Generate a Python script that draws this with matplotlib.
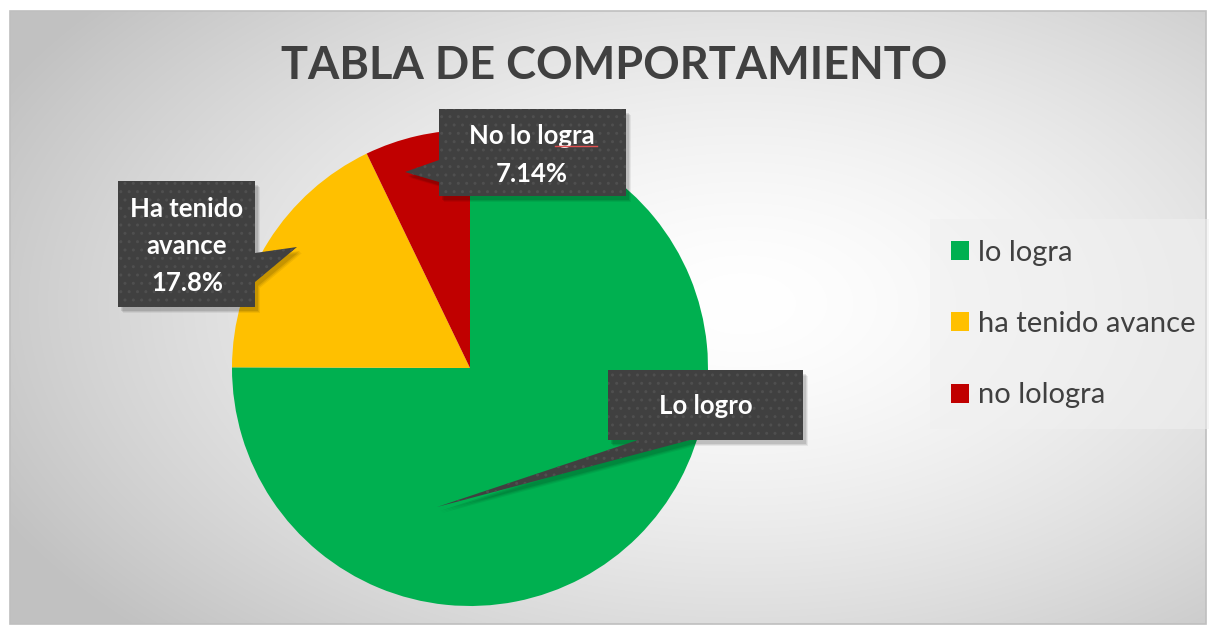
import matplotlib.pyplot as plt
import numpy as np
from matplotlib.patches import Polygon, Rectangle

# data
legend_labels = ['lo logra', 'ha tenido avance', 'no lologra']
callout_names = ['Lo logro', 'Ha tenido\navance', 'No lo logra']
values = [75.0, 17.8, 7.14]
show_pct = [False, True, True]
colors = ['#00b050', '#ffc000', '#c00000']

W, H = 1209, 629
fig = plt.figure(figsize=(W / 100, H / 100), dpi=100)
ax = fig.add_axes([0, 0, 1, 1])

# background: radial grey gradient inside a thin frame
yy, xx = np.mgrid[0:H, 0:W]
d = np.sqrt(((xx - 740) / 620.0) ** 2 + ((yy - 300) / 360.0) ** 2)
shade = 1.0 - 0.24 * np.clip(d / 1.35, 0, 1) ** 1.5
bg = np.dstack([shade] * 3)
ax.imshow(bg, extent=(10, 1206, 624, 11), zorder=0, interpolation='bilinear')
ax.add_patch(Rectangle((10, 11), 1196, 613, fill=False, ec='#bfbfbf', lw=1.2, zorder=1))

# pie (y axis points down, so counterclock=True reads clockwise on screen)
cx, cy, r = 470, 368, 238
wedges, _ = ax.pie(values, colors=colors, startangle=-90, counterclock=True,
                   center=(cx, cy), radius=r, frame=True,
                   wedgeprops=dict(linewidth=0))
for w in wedges:
    w.set_zorder(2)

ax.set_xlim(0, W)
ax.set_ylim(H, 0)
ax.set_aspect('auto')
ax.set_axis_off()

fig.patch.set_facecolor('white')

ax.text(614, 66, 'TABLA DE COMPORTAMIENTO', ha='center', va='center',
        fontsize=32.5, fontweight='bold', color='#404040', family='Lato', zorder=5)

# callouts: box + pointer outlines
shapes = [
    [(608, 370), (803, 370), (803, 440), (690, 440), (437, 507), (638, 440), (608, 440)],
    [(118, 181), (255, 181), (255, 253), (297, 247), (255, 282), (255, 307), (118, 307)],
    [(439, 109), (626, 109), (626, 196), (439, 196), (439, 182), (405, 172), (439, 160)],
]
text_pos = [(706, 406), (187, 246), (532, 155)]

for i, pts in enumerate(shapes):
    pts = np.array(pts, dtype=float)
    for k, a in enumerate([0.10, 0.08, 0.06]):
        ax.add_patch(Polygon(pts + (3 + k, 4 + k), closed=True, fc='black',
                             alpha=a, lw=0, zorder=3))
    ax.add_patch(Polygon(pts, closed=True, fc='#404040', ec='#4f4f4f',
                         lw=0, hatch='..', zorder=4))
    txt = callout_names[i]
    if show_pct[i]:
        txt += '\n' + f'{values[i]:.3g}%'
    ax.text(text_pos[i][0], text_pos[i][1], txt, ha='center', va='center',
            color='white', fontsize=18.5, fontweight='bold', family='Lato',
            linespacing=1.65, zorder=6)

# red spell-check squiggle under "logra"
ax.plot([555, 597], [146, 146], color='#e05050', lw=1, zorder=7)

# legend
leg = ax.legend(wedges, legend_labels, loc='upper left',
                bbox_to_anchor=(930 / W, 1 - 219 / H), frameon=True,
                labelspacing=1.55, handlelength=0.62,
                handleheight=0.62, handletextpad=0.3, borderpad=0.72,
                borderaxespad=0, prop={'family': 'Lato', 'size': 21})
leg.get_frame().set_facecolor('#f0f0f0')
leg.get_frame().set_alpha(0.55)
leg.get_frame().set_edgecolor('none')
leg.get_frame().set_boxstyle('square', pad=0)
for t in leg.get_texts():
    t.set_color('#404040')
leg.set_zorder(6)

fig.savefig('out.png', dpi=100, facecolor='white')
